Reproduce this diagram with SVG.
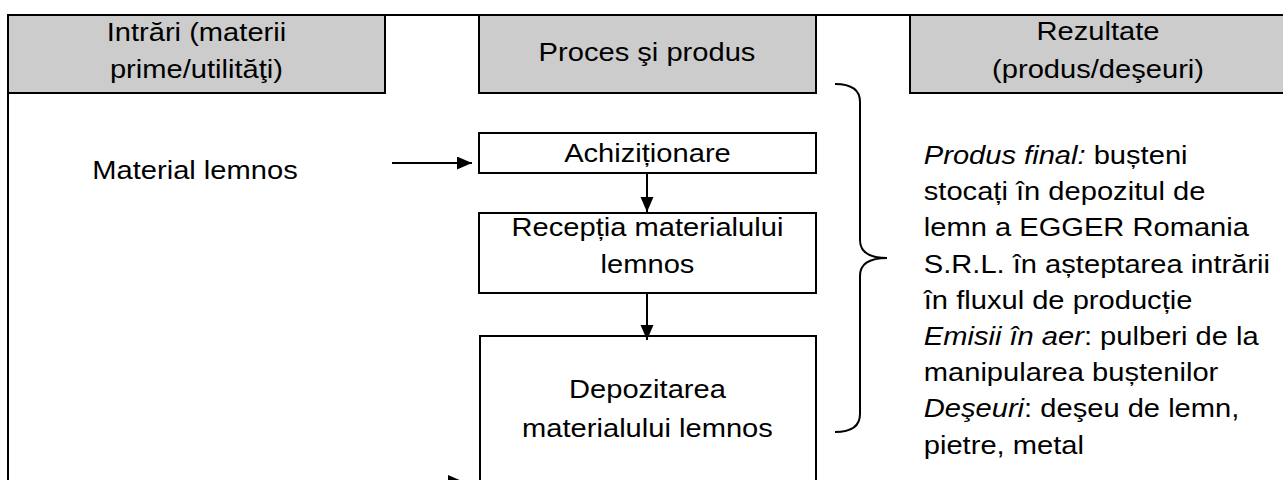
<svg xmlns="http://www.w3.org/2000/svg" width="1283" height="480" viewBox="0 0 1283 480">
<style>
.hdr{fill:#cccccc;stroke:#000;stroke-width:2}
.box{fill:#fff;stroke:#000;stroke-width:2}
.ln{fill:none;stroke:#000;stroke-width:2}
.con{fill:none;stroke:#000;stroke-width:2}
text{font-family:"Liberation Sans",Arial,sans-serif;font-size:26px;fill:#000}
.c{text-anchor:middle}
.i{font-style:italic}
</style>
<defs>
<marker id="ah" markerUnits="userSpaceOnUse" markerWidth="16" markerHeight="14" refX="15" refY="6.5" orient="auto">
<path d="M0,0 L15,6.5 L0,13 z" fill="#000"/>
</marker>
</defs>
<rect width="1283" height="480" fill="#fff"/>
<g id="frame">
<line class="ln" x1="7" y1="15" x2="1283" y2="15"/>
<line class="ln" x1="8" y1="14" x2="8" y2="480"/>
</g>
<g id="header-intrari">
<rect class="hdr" x="8" y="15" width="377" height="78"/>
<g transform="scale(1.12,1)"><text class="c" x="175.4" y="41.5">Intrări (materii</text><text class="c" x="175.4" y="78">prime/utilităţi)</text></g>
</g>
<g id="header-proces">
<rect class="hdr" x="479" y="15" width="337" height="78"/>
<g transform="scale(1.12,1)"><text class="c" x="577.7" y="61.5">Proces şi produs</text></g>
</g>
<g id="header-rezultate">
<rect class="hdr" x="910" y="15" width="376" height="78"/>
<g transform="scale(1.12,1)"><text class="c" x="980.4" y="40">Rezultate</text><text class="c" x="980.4" y="78">(produs/deşeuri)</text></g>
</g>
<g id="input-material">
<g transform="scale(1.12,1)"><text class="c" x="174.1" y="179">Material lemnos</text></g>
</g>
<g id="node-achizitionare">
<rect class="box" x="479" y="133" width="337" height="40"/>
<g transform="scale(1.12,1)"><text class="c" x="578.1" y="162">Achiziționare</text></g>
</g>
<g id="node-receptia">
<rect class="box" x="479" y="213" width="337" height="80"/>
<g transform="scale(1.12,1)"><text class="c" x="578.1" y="236">Recepția materialului</text><text class="c" x="578.1" y="273">lemnos</text></g>
</g>
<g id="node-depozitarea">
<rect class="box" x="480" y="336" width="336" height="160"/>
<g transform="scale(1.12,1)"><text class="c" x="578.1" y="398">Depozitarea</text><text class="c" x="578.1" y="437">materialului lemnos</text></g>
</g>
<g id="results">
<path class="ln" d="M835,84 Q860,84 860,102 L860,240 Q860,258 887,258 Q860,258 860,276 L860,414 Q860,432 835,432"/>
<g transform="scale(1.12,1)">
<text x="824.8" y="164"><tspan class="i">Produs final:</tspan> bușteni</text>
<text x="824.8" y="200.2">stocați în depozitul de</text>
<text x="824.8" y="236.4">lemn a EGGER Romania</text>
<text x="824.8" y="272.6">S.R.L. în așteptarea intrării</text>
<text x="824.8" y="308.8">în fluxul de producție</text>
<text x="824.8" y="345"><tspan class="i">Emisii în aer</tspan>: pulberi de la</text>
<text x="824.8" y="381.2">manipularea buștenilor</text>
<text x="824.8" y="417.4"><tspan class="i">Deşeuri</tspan>: deşeu de lemn,</text>
<text x="824.8" y="453.6">pietre, metal</text>
</g>
</g>
<g id="connectors">
<line class="con" x1="392" y1="163" x2="472" y2="163" marker-end="url(#ah)"/>
<line class="con" x1="647" y1="173" x2="647" y2="212" marker-end="url(#ah)"/>
<line class="con" x1="647" y1="293" x2="647" y2="340" marker-end="url(#ah)"/>
<line class="con" x1="392" y1="481.5" x2="463" y2="481.5" marker-end="url(#ah)"/>
</g>
</svg>
